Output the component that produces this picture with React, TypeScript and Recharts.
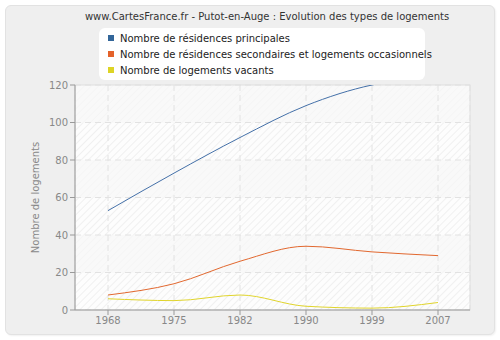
import * as R from 'recharts'
import { LineChart, Line, XAxis, YAxis, CartesianGrid } from 'recharts'

const YEARS = ['1968', '1975', '1982', '1990', '1999', '2007']
const PRINCIPALES = [53, 73, 92, 109, 120, 124]
const SECONDAIRES = [8, 14, 26, 34, 31, 29]
const VACANTS = [6, 5, 8, 2, 1, 4]
const Y_TICKS = [0, 20, 40, 60, 80, 100, 120]

const COLOR_PRINC = '#4470A8'
const COLOR_SEC = '#E2682F'
const COLOR_VAC = '#E0D42C'
const AXIS = '#999'
const TICK = '#888'
const FONT = '"DejaVu Sans", Verdana, sans-serif'

const LEGEND = [
  { label: 'Nombre de résidences principales', color: '#336699' },
  { label: 'Nombre de résidences secondaires et logements occasionnels', color: '#E4622A' },
  { label: 'Nombre de logements vacants', color: '#DDD425' },
]

const data = YEARS.map((year, i) => ({
  year,
  principales: PRINCIPALES[i],
  secondaires: SECONDAIRES[i],
  vacants: VACANTS[i],
}))

// cadre léger autour de la zone de tracé
function PlotBorder() {
  const hook = (R as any).usePlotArea
  const area = typeof hook === 'function' ? hook() : null
  if (!area) return null
  return <rect x={area.x} y={area.y} width={area.width} height={area.height} fill="none" stroke="#e0e0e0" />
}

export default function App() {
  return (
    <div style={{ position: 'relative', width: 500, height: 340, background: '#fff', fontFamily: FONT }}>
      <style>{'body{margin:0}'}</style>
      <svg width={0} height={0} style={{ position: 'absolute' }}>
        <defs>
          <pattern id="hatch" width={5} height={5} patternUnits="userSpaceOnUse" patternTransform="rotate(45)">
            <rect width={5} height={5} fill="#fdfdfd" />
            <line x1={0} y1={0} x2={0} y2={5} stroke="#e8e8e8" strokeWidth={1.2} />
          </pattern>
        </defs>
      </svg>
      <div
        style={{
          position: 'absolute',
          left: 5,
          top: 5,
          width: 488,
          height: 328,
          background: '#efefef',
          border: '1px solid #e2e2e2',
          borderRadius: 6,
          boxShadow: '1px 1px 2px rgba(0,0,0,0.06)',
        }}
      />
      <div
        style={{
          position: 'absolute',
          left: 0,
          width: 534,
          top: 11,
          textAlign: 'center',
          fontSize: 10,
          color: '#333',
          whiteSpace: 'nowrap',
        }}
      >
        www.CartesFrance.fr - Putot-en-Auge : Evolution des types de logements
      </div>
      <div style={{ position: 'absolute', left: 0, top: 0 }}>
        <LineChart width={500} height={340} data={data} margin={{ top: 85, right: 30, bottom: 5, left: 35 }}>
          <CartesianGrid
            fill="url(#hatch)"
            fillOpacity={1}
            horizontalFill={['rgba(248,248,248,0.65)', 'rgba(255,255,255,0)']}
            stroke="#e2e2e2"
            strokeDasharray="6 4"
          />
          <PlotBorder />
          <XAxis
            dataKey="year"
            height={25}
            padding={{ left: 33, right: 32 }}
            tick={{ fontSize: 10, fill: TICK, fontFamily: FONT }}
            tickSize={5}
            stroke={AXIS}
            tickLine={{ stroke: AXIS }}
          />
          <YAxis
            width={40}
            domain={[0, 120]}
            ticks={Y_TICKS}
            allowDataOverflow
            tick={{ fontSize: 10, fill: TICK, fontFamily: FONT }}
            tickSize={5}
            stroke={AXIS}
            tickLine={{ stroke: AXIS }}
            label={{
              value: 'Nombre de logements',
              angle: -90,
              position: 'insideLeft',
              offset: 0,
              style: { fontSize: 10, fill: TICK, fontFamily: FONT, textAnchor: 'middle' },
            }}
          />
          <Line type="monotone" dataKey="principales" stroke={COLOR_PRINC} strokeWidth={1} dot={false} isAnimationActive={false} />
          <Line type="monotone" dataKey="secondaires" stroke={COLOR_SEC} strokeWidth={1} dot={false} isAnimationActive={false} />
          <Line type="monotone" dataKey="vacants" stroke={COLOR_VAC} strokeWidth={1} dot={false} isAnimationActive={false} />
        </LineChart>
      </div>
      <div
        style={{
          position: 'absolute',
          left: 99,
          top: 28,
          width: 326,
          height: 52,
          background: '#fff',
          borderRadius: 6,
          boxSizing: 'border-box',
          padding: '2px 0 0 9px',
        }}
      >
        {LEGEND.map((item) => (
          <div key={item.label} style={{ display: 'flex', alignItems: 'center', height: 16, fontSize: 10, color: '#222', whiteSpace: 'nowrap' }}>
            <span style={{ display: 'inline-block', flexShrink: 0, width: 6, height: 6, background: item.color, marginRight: 6 }} />
            {item.label}
          </div>
        ))}
      </div>
    </div>
  )
}
